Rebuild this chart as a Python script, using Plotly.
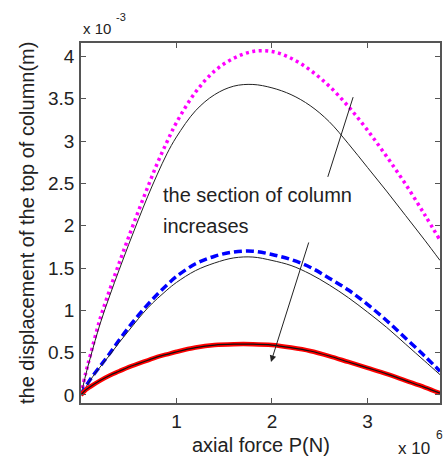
import plotly.graph_objects as go

# axial force P (x 10^6 N)
force = [0, 0.05, 0.1, 0.2, 0.3, 0.4, 0.5, 0.6, 0.7, 0.8, 0.9, 1.0, 1.2, 1.4,
         1.6, 1.8, 2.0, 2.2, 2.4, 2.6, 2.8, 3.0, 3.2, 3.4, 3.6, 3.76]

# displacement of the top of column (x 10^-3 m)
disp_magenta = [0, 0.26, 0.48, 0.90, 1.24, 1.56, 1.87, 2.17, 2.46, 2.74, 2.99, 3.22, 3.58, 3.83,
                3.98, 4.06, 4.06, 3.98, 3.84, 3.65, 3.41, 3.13, 2.82, 2.49, 2.13, 1.83]
disp_black_top = [0, 0.24, 0.45, 0.84, 1.17, 1.48, 1.78, 2.07, 2.35, 2.61, 2.85, 3.05, 3.36, 3.55,
                  3.65, 3.67, 3.63, 3.55, 3.42, 3.23, 2.97, 2.69, 2.41, 2.12, 1.83, 1.59]
disp_blue = [0, 0.10, 0.19, 0.34, 0.49, 0.65, 0.80, 0.94, 1.07, 1.19, 1.30, 1.40, 1.55, 1.64,
             1.69, 1.70, 1.66, 1.60, 1.51, 1.38, 1.24, 1.07, 0.88, 0.67, 0.46, 0.28]
disp_black_mid = [0, 0.09, 0.18, 0.33, 0.47, 0.62, 0.76, 0.90, 1.03, 1.14, 1.24, 1.33, 1.47, 1.56,
                  1.62, 1.63, 1.59, 1.53, 1.43, 1.30, 1.15, 0.98, 0.80, 0.60, 0.40, 0.24]
disp_red = [0, 0.06, 0.10, 0.17, 0.23, 0.28, 0.33, 0.37, 0.41, 0.45, 0.48, 0.51, 0.56, 0.59,
            0.60, 0.60, 0.59, 0.56, 0.52, 0.46, 0.39, 0.32, 0.25, 0.17, 0.09, 0.02]
disp_black_bot = disp_red

y_ticks = [0, 0.5, 1, 1.5, 2, 2.5, 3, 3.5, 4]
y_tick_labels = ["0", "0.5", "1", "1.5", "2", "2.5", "3", "3.5", "4"]
x_ticks = [1, 2, 3]
x_tick_labels = ["1", "2", "3"]

FONT = "Liberation Sans, Arial, sans-serif"
TXT = "#222222"
AX = "#555555"

fig = go.Figure()
fig.add_trace(go.Scatter(x=force, y=disp_magenta, mode="lines", line_shape="spline",
                         line=dict(color="#ff00ff", width=3.5, dash="3px,3.5px")))
fig.add_trace(go.Scatter(x=force, y=disp_black_top, mode="lines", line_shape="spline",
                         line=dict(color="#222222", width=1)))
fig.add_trace(go.Scatter(x=force, y=disp_blue, mode="lines", line_shape="spline",
                         line=dict(color="#0000ff", width=3.5, dash="8px,4px")))
fig.add_trace(go.Scatter(x=force, y=disp_black_mid, mode="lines", line_shape="spline",
                         line=dict(color="#222222", width=1)))
fig.add_trace(go.Scatter(x=force, y=disp_red, mode="lines", line_shape="spline",
                         line=dict(color="#ff0000", width=4.5)))
fig.add_trace(go.Scatter(x=force, y=disp_black_bot, mode="lines", line_shape="spline",
                         line=dict(color="#111111", width=1.2)))

annotations = [
    # line from text toward upper curves
    dict(x=2.85, y=3.52, ax=2.58, ay=2.56, xref="x", yref="y", axref="x", ayref="y",
         text="", showarrow=True, arrowhead=0, arrowwidth=1, arrowcolor="#222222"),
    # arrow toward lower curves
    dict(x=1.99, y=0.39, ax=2.39, ay=1.82, xref="x", yref="y", axref="x", ayref="y",
         text="", showarrow=True, arrowhead=2, arrowsize=1.3, arrowwidth=1, arrowcolor="#222222"),
    dict(x=0.84, y=2.36, xref="x", yref="y", xanchor="left", yanchor="middle",
         text="the section of column", showarrow=False,
         font=dict(family=FONT, size=20, color=TXT)),
    dict(x=0.84, y=1.995, xref="x", yref="y", xanchor="left", yanchor="middle",
         text="increases", showarrow=False,
         font=dict(family=FONT, size=20, color=TXT)),
    dict(x=0.5, y=0, xref="paper", yref="paper", yshift=-42, yanchor="middle",
         text="axial force P(N)", showarrow=False,
         font=dict(family=FONT, size=20, color=TXT)),
    dict(x=0, y=0.5, xref="paper", yref="paper", xshift=-54, xanchor="center",
         text="the displacement of the top of column(m)", textangle=-90, showarrow=False,
         font=dict(family=FONT, size=20, color=TXT)),
    # exponent labels
    dict(x=0, y=1, xref="paper", yref="paper", xanchor="left", yanchor="middle",
         xshift=0, yshift=15,
         text="x 10", showarrow=False,
         font=dict(family=FONT, size=15, color=TXT)),
    dict(x=0, y=1, xref="paper", yref="paper", xanchor="left", yanchor="middle",
         xshift=33, yshift=26,
         text="-3", showarrow=False,
         font=dict(family=FONT, size=11, color=TXT)),
    dict(x=1, y=0, xref="paper", yref="paper", xanchor="left", yanchor="middle",
         xshift=-44, yshift=-45,
         text="x 10", showarrow=False,
         font=dict(family=FONT, size=17, color=TXT)),
    dict(x=1, y=0, xref="paper", yref="paper", xanchor="left", yanchor="middle",
         xshift=-6, yshift=-32,
         text="6", showarrow=False,
         font=dict(family=FONT, size=12, color=TXT)),
]

fig.update_layout(
    width=443, height=459,
    margin=dict(l=81, r=1, t=43, b=56),
    paper_bgcolor="white", plot_bgcolor="white",
    showlegend=False,
    annotations=annotations,
    font=dict(family=FONT, size=19, color=TXT),
)
fig.update_xaxes(range=[0, 3.76], tickvals=x_ticks, ticktext=x_tick_labels,
                 ticks="inside", ticklen=5, tickcolor=AX, showgrid=False, zeroline=False,
                 showline=True, linecolor=AX, linewidth=1.5, mirror="allticks",
                 ticklabelstandoff=0, tickfont=dict(family=FONT, size=19, color=TXT))
fig.update_yaxes(range=[-0.095, 4.16], tickvals=y_ticks, ticktext=y_tick_labels,
                 ticks="inside", ticklen=5, tickcolor=AX, showgrid=False, zeroline=False,
                 showline=True, linecolor=AX, linewidth=1.5, mirror="allticks",
                 ticklabelstandoff=1, tickfont=dict(family=FONT, size=19, color=TXT))

fig.write_html("out.html", config={"displayModeBar": False},
               post_script="document.body.style.margin='0px';")
